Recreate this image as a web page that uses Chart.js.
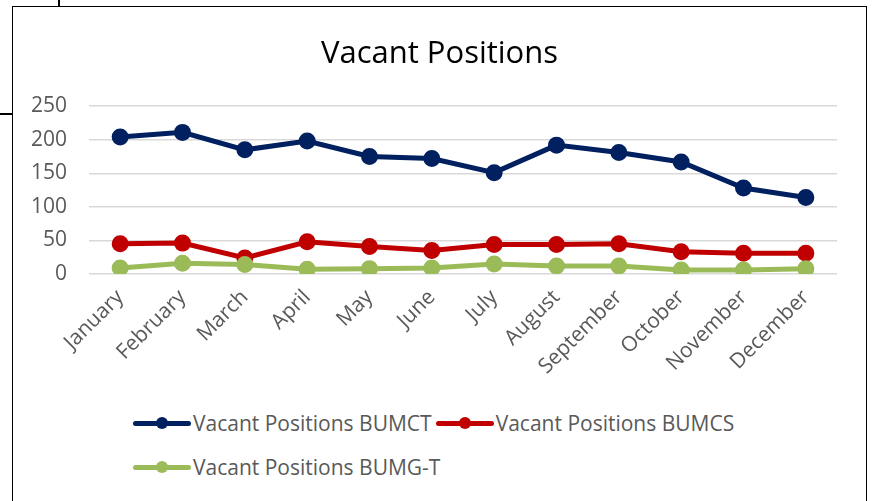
<!DOCTYPE html>
<html>
<head>
<meta charset="utf-8">
<script src="https://cdn.jsdelivr.net/npm/chart.js@4"></script>
<style>
    body { margin: 0; background: #fff; width: 873px; height: 501px; position: relative; overflow: hidden; font-family: "Open Sans", sans-serif; }
    #frame { position: absolute; left: 12px; top: 6px; width: 853px; height: 520px; border: 1.5px solid #000; background: #fff; }
    #chartBox { position: absolute; left: 0; top: 0; width: 853px; height: 397px; }
    .tick-v { position: absolute; left: 58px; top: 0; width: 1.5px; height: 7px; background: #000; }
    .tick-h { position: absolute; left: 0; top: 113px; width: 13px; height: 1.5px; background: #000; }
    #legend { position: absolute; left: 120px; top: 404px; width: 690px; display: flex; flex-wrap: wrap; row-gap: 20px; }
    .item { display: flex; align-items: center; font-size: 21px; color: #595959; height: 24px; margin-right: 4px; }
    .swatch { position: relative; width: 58px; height: 20px; margin-right: 2px; }
    .swatch .ln { position: absolute; left: 0; right: 0; top: 8px; height: 5px; border-radius: 3px; }
    .swatch .dot { position: absolute; left: 23px; top: 4px; width: 12px; height: 12px; border-radius: 50%; }
</style>
</head>
<body>
<div class="tick-v"></div>
<div class="tick-h"></div>
<div id="frame">
    <div id="chartBox"><canvas id="vacantChart"></canvas></div>
    <div id="legend"></div>
</div>
<script>
// Vacant Positions chart data
const months = ['January', 'February', 'March', 'April', 'May', 'June', 'July', 'August', 'September', 'October', 'November', 'December'];
const bumct = [204, 211, 185, 198, 175, 172, 151, 192, 181, 167, 128, 114];
const bumcs = [45, 46, 24, 48, 41, 35, 44, 44, 45, 33, 31, 31];
const bumgt = [9, 16, 14, 7, 8, 9, 15, 12, 12, 6, 6, 8];
const yTicks = [0, 50, 100, 150, 200, 250];

const seriesNames = ['Vacant Positions BUMCT', 'Vacant Positions BUMCS', 'Vacant Positions BUMG-T'];
const seriesColors = ['#002060', '#C00000', '#9BBB59'];
const seriesValues = [bumct, bumcs, bumgt];

function makeDataset(i) {
    return {
        label: seriesNames[i],
        data: seriesValues[i],
        borderColor: seriesColors[i],
        backgroundColor: seriesColors[i],
        borderWidth: 5,
        pointRadius: 6,
        pointHoverRadius: 6,
        tension: 0,
        order: 3 - i  // later series on top, like Excel
    };
}

const tickFont = { family: 'Open Sans', size: 21 };

const ctx = document.getElementById('vacantChart').getContext('2d');
const vacantChart = new Chart(ctx, {
    type: 'line',
    data: {
        labels: months,
        datasets: [0, 1, 2].map(makeDataset)
    },
    options: {
        responsive: true,
        maintainAspectRatio: false,
        animation: false,
        layout: { padding: 0 },
        plugins: {
            legend: { display: false },
            tooltip: { enabled: false },
            title: {
                display: true,
                text: 'Vacant Positions',
                color: '#000',
                font: { family: 'Open Sans', size: 31, weight: 'normal' },
                padding: { top: 29, bottom: 33 }
            }
        },
        scales: {
            x: {
                offset: true,
                grid: { display: false },
                border: { display: false },
                ticks: {
                    color: '#595959',
                    font: tickFont,
                    maxRotation: 45,
                    minRotation: 45,
                    padding: 3
                },
                afterFit: (s) => { s.height = 130; }
            },
            y: {
                min: 0,
                max: 250,
                afterBuildTicks: (s) => { s.ticks = yTicks.map(v => ({ value: v })); },
                grid: { color: '#D9D9D9', lineWidth: 1.5, drawTicks: false },
                border: { display: false },
                ticks: {
                    color: '#595959',
                    font: tickFont,
                    padding: 22
                },
                afterFit: (s) => { s.width = 76; }
            },
            // empty right axis, only keeps the plot clear of the right edge
            spacer: {
                position: 'right',
                grid: { display: false },
                border: { display: false },
                ticks: { display: false },
                afterFit: (s) => { s.width = 29; }
            }
        }
    }
});

// HTML legend (first row two items, second row left aligned)
const legendEl = document.getElementById('legend');
seriesNames.forEach((name, i) => {
    const item = document.createElement('div');
    item.className = 'item';
    item.innerHTML = `<span class="swatch"><span class="ln" style="background:${seriesColors[i]}"></span><span class="dot" style="background:${seriesColors[i]}"></span></span>${name}`;
    legendEl.appendChild(item);
});
</script>
</body>
</html>
